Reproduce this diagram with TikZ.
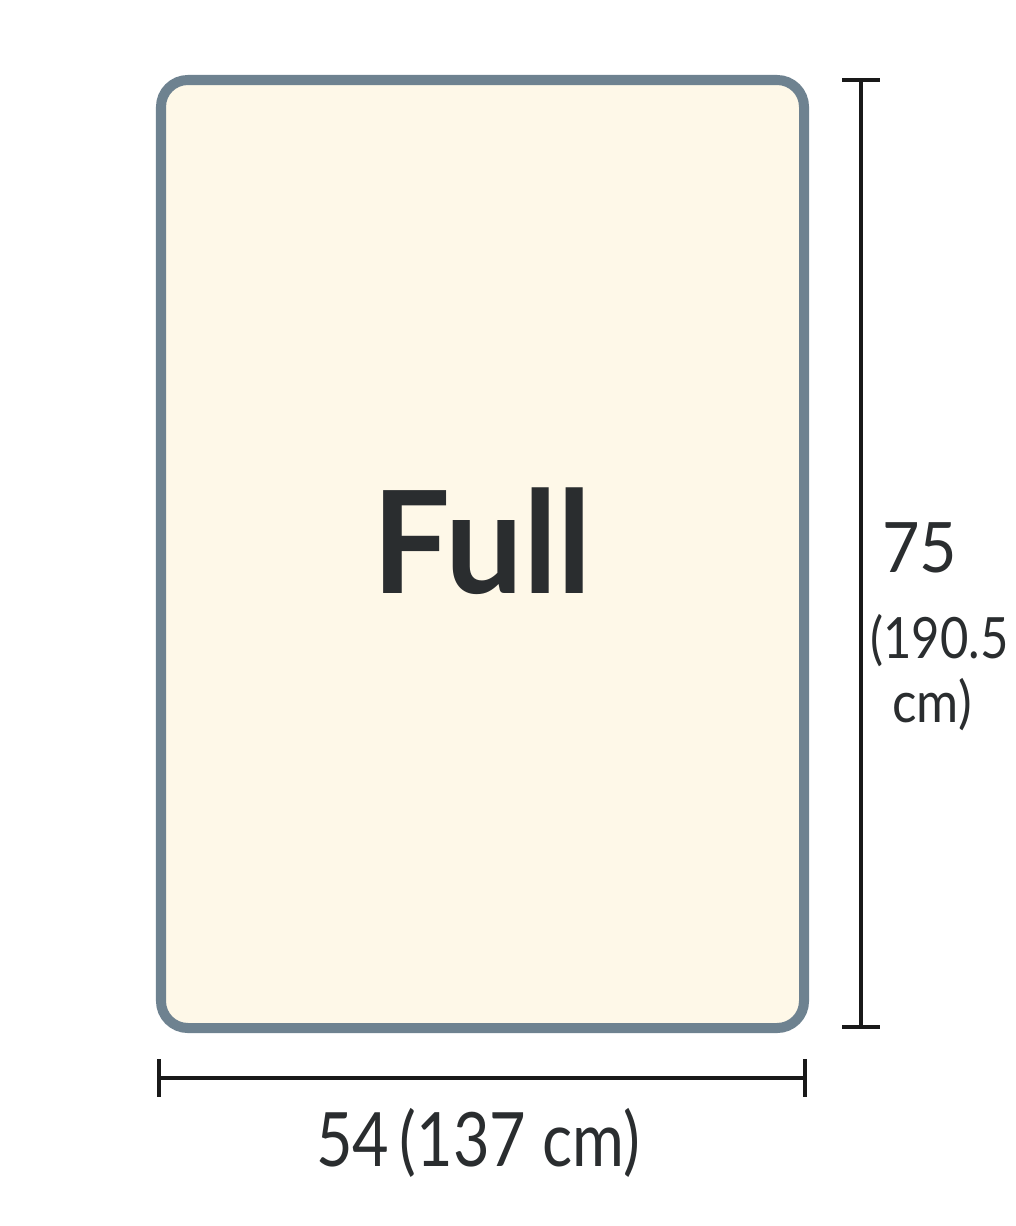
\documentclass[tikz,border=0pt]{standalone}
\usepackage{fontspec}
\setmainfont{Lato}
\usepackage{tikz}
\usetikzlibrary{calc, positioning, arrows.meta}
\definecolor{xframe}{HTML}{6E8290}
\definecolor{xcream}{HTML}{FEF8E8}
\definecolor{xink}{HTML}{2A2D2F}
\tikzset{
  mattress/.style = {line width=5.7pt, draw=xframe, fill=xcream, rounded corners=15.3pt},
  dimline/.style  = {line width=2.2pt, draw=black!90, {Bar[width=21.5pt, line width=2.2pt]}-{Bar[width=21.5pt, line width=2.2pt]}},
  label/.style    = {inner sep=0pt, text=xink, font=\fontsize{#1}{#1}\selectfont},
}
\begin{document}
\begin{tikzpicture}[x=0.02cm, y=-0.02cm]
			\useasboundingbox[fill=white] (0,0) rectangle (1016,1226);
			\coordinate (mNW) at (161,80);
			\coordinate (mSE) at (804,1028);
			\draw[mattress] (mNW) rectangle (mSE);
			\node[label=81pt, font=\fontsize{81pt}{81pt}\selectfont\bfseries, anchor=base, xscale=0.97] (name) at (482,593) {Full};

			% height
			\coordinate (hTop) at (861,78);
			\coordinate (hBot) at (861,1029);
			\draw[dimline] (hTop) -- (hBot);
			\node[label=39.6pt, anchor=base west, xscale=0.93] (hIn) at (882,572) {75};
			\node[label=32.4pt, anchor=base west, xscale=0.86] (hCm) at (870,658) {(190.5};
			\node[label=32.4pt, anchor=base, xscale=0.9] (hCmB) at (932,722) {cm)};

			% width
			\coordinate (wLeft) at (157,1078);
			\coordinate (wRight) at (807,1078);
			\draw[dimline] (wLeft) -- (wRight);
			\node[label=42.7pt, anchor=base, xscale=0.84] (wIn) at (478,1166) {54\,(137 cm)};
		\end{tikzpicture}
\end{document}
